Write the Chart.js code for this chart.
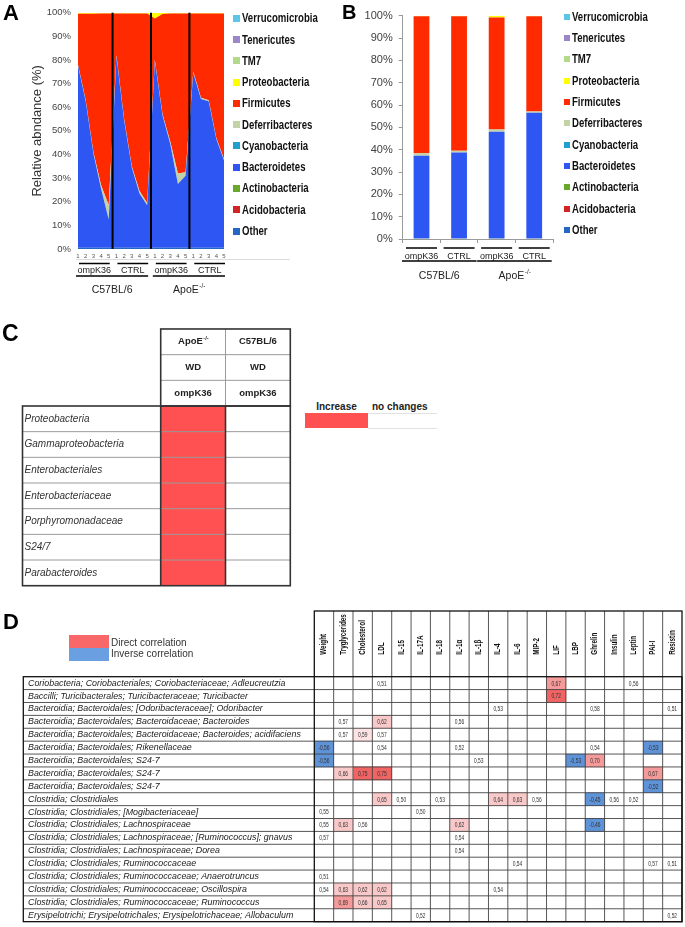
<!DOCTYPE html>
<html><head><meta charset="utf-8">
<script src="https://cdn.jsdelivr.net/npm/chart.js@4.4.1/dist/chart.umd.min.js"></script>
<style>
html,body{margin:0;padding:0;background:#fff;}
body{position:relative;width:685px;height:927px;overflow:hidden;font-family:'Liberation Sans',Arial,sans-serif;}
canvas{position:absolute;}
.abs{position:absolute;white-space:nowrap;}
.plet{font-weight:bold;line-height:1;color:#000;z-index:3;}
.leg{font:bold 12px 'Liberation Sans',Arial,sans-serif;color:#111;line-height:14px;z-index:3;transform:scaleX(0.8);transform-origin:0 50%;}
</style></head><body>
<canvas id="chartA" width="340" height="300" style="left:0;top:0"></canvas>
<canvas id="chartB" width="345" height="300" style="left:340px;top:0"></canvas>
<canvas id="chartC" width="300" height="300" style="left:0;top:300px"></canvas>
<canvas id="chartD" width="685" height="327" style="left:0;top:600px"></canvas>
<div class="abs plet" style="left:3px;top:2px;font-size:22px">A</div>
<div class="abs plet" style="left:342px;top:2px;font-size:20px">B</div>
<div class="abs plet" style="left:2px;top:322px;font-size:23px">C</div>
<div class="abs plet" style="left:3px;top:611px;font-size:22px">D</div>
<div id="legends"></div>
<script>
// ---------------- DATA ----------------
// Panels A & B
const phyla = ['Other','Acidobacteria','Actinobacteria','Bacteroidetes','Cyanobacteria','Deferribacteres','Firmicutes','Proteobacteria','TM7','Tenericutes','Verrucomicrobia'];
const sampleLabels = ['1','2','3','4','5','1','2','3','4','5','1','2','3','4','5','1','2','3','4','5'];
const treatmentLabels = ['ompK36','CTRL','ompK36','CTRL'];
const strainLabels = ['C57BL/6','ApoE-/-'];

const otherA          = [0.5,0.5,0.5,0.5,0.5, 0.5,0.5,0.5,0.5,0.5, 0.5,0.5,0.5,0.5,0.5, 0.5,0.5,0.5,0.5,0.5];
const bacteroidetesA  = [77,62,40,25,12, 81,54,34,23,18, 79,56,44,27,30.5, 74,63,62,46,37];
const deferribacteresA= [0.5,0.5,0.5,1.5,6, 0.5,0.5,0.5,1,1, 0.5,0.5,1,4.5,1.5, 0.5,0.5,0.5,0.5,0.5];
const firmicutesA     = [21.6,36.6,58.6,72.7,81.2, 17.7,44.7,64.7,75.2,80.2, 17.5,42.5,54.2,67.7,67.2, 24.7,35.7,36.7,52.7,61.7];
const proteobacteriaA = [0.4,0.4,0.4,0.3,0.3, 0.3,0.3,0.3,0.3,0.3, 2.5,0.5,0.3,0.3,0.3, 0.3,0.3,0.3,0.3,0.3];

const otherB          = [0.5,0.5,0.5,0.5];
const bacteroidetesB  = [36.8,38.2,47.5,56];
const deferribacteresB= [1.2,0.8,1,0.6];
const firmicutesB     = [61.3,60.3,50.2,42.7];
const proteobacteriaB = [0.2,0.2,0.8,0.2];

// Panel C
const taxaC = ['Proteobacteria','Gammaproteobacteria','Enterobacteriales','Enterobacteriaceae','Porphyromonadaceae','S24/7','Parabacteroides'];
const strainsC = ['ApoE-/-','C57BL/6'];
const dietsC = ['WD','WD'];
const treatmentsC = ['ompK36','ompK36'];
const changeApoE = [1,1,1,1,1,1,1];   // 1 = increase
const changeC57  = [0,0,0,0,0,0,0];   // 0 = no changes

// Panel D
const taxaD = [
 'Coriobacteria; Coriobacteriales; Coriobacteriaceae; Adleucreutzia',
 'Baccilli; Turicibacterales; Turicibacteraceae; Turicibacter',
 'Bacteroidia; Bacteroidales; [Odoribacteraceae]; Odoribacter',
 'Bacteroidia; Bacteroidales; Bacteroidaceae; Bacteroides',
 'Bacteroidia; Bacteroidales; Bacteroidaceae; Bacteroides; acidifaciens',
 'Bacteroidia; Bacteroidales; Rikenellaceae',
 'Bacteroidia; Bacteroidales; S24-7',
 'Bacteroidia; Bacteroidales; S24-7',
 'Bacteroidia; Bacteroidales; S24-7',
 'Clostridia; Clostridiales',
 'Clostridia; Clostridiales; [Mogibacteriaceae]',
 'Clostridia; Clostridiales; Lachnospiraceae',
 'Clostridia; Clostridiales; Lachnospiraceae; [Ruminococcus]; gnavus',
 'Clostridia; Clostridiales; Lachnospiraceae; Dorea',
 'Clostridia; Clostridiales; Ruminococcaceae',
 'Clostridia; Clostridiales; Ruminococcaceae; Anaerotruncus',
 'Clostridia; Clostridiales; Ruminococcaceae; Oscillospira',
 'Clostridia; Clostridiales; Ruminococcaceae; Ruminococcus',
 'Erysipelotrichi; Erysipelotrichales; Erysipelotrichaceae; Allobaculum'
];
const factorsD = ['Weight','Tryglycerides','Cholesterol','LDL','IL-15','IL-17A','IL-18','IL-1\u03b1','IL-1\u03b2','IL-4','IL-6','MIP-2','LIF','LBP','Ghrelin','Insulin','Leptin','PAI-I','Resistin'];
const correlations = [
 [0,'LDL',0.51],[0,'LIF',0.67],[0,'Leptin',0.56],
 [1,'LIF',0.72],
 [2,'IL-4',0.53],[2,'Ghrelin',0.58],[2,'Resistin',0.51],
 [3,'Tryglycerides',0.57],[3,'LDL',0.62],[3,'IL-1\u03b1',0.56],
 [4,'Tryglycerides',0.57],[4,'Cholesterol',0.59],[4,'LDL',0.57],
 [5,'Weight',-0.56],[5,'LDL',0.54],[5,'IL-1\u03b1',0.52],[5,'Ghrelin',0.54],[5,'PAI-I',-0.53],
 [6,'Weight',-0.56],[6,'IL-1\u03b2',0.53],[6,'LBP',-0.53],[6,'Ghrelin',0.70],
 [7,'Tryglycerides',0.66],[7,'Cholesterol',0.75],[7,'LDL',0.75],[7,'PAI-I',0.67],
 [8,'PAI-I',-0.52],
 [9,'LDL',0.65],[9,'IL-15',0.50],[9,'IL-18',0.53],[9,'IL-4',0.64],[9,'IL-6',0.63],[9,'MIP-2',0.56],[9,'Ghrelin',-0.45],[9,'Insulin',0.56],[9,'Leptin',0.52],
 [10,'Weight',0.55],[10,'IL-17A',0.50],
 [11,'Weight',0.55],[11,'Tryglycerides',0.63],[11,'Cholesterol',0.56],[11,'IL-1\u03b1',0.62],[11,'Ghrelin',-0.46],
 [12,'Weight',0.57],[12,'IL-1\u03b1',0.54],
 [13,'IL-1\u03b1',0.54],
 [14,'IL-6',0.54],[14,'PAI-I',0.57],[14,'Resistin',0.51],
 [15,'Weight',0.51],
 [16,'Weight',0.54],[16,'Tryglycerides',0.63],[16,'Cholesterol',0.62],[16,'LDL',0.62],[16,'IL-4',0.54],
 [17,'Tryglycerides',0.69],[17,'Cholesterol',0.66],[17,'LDL',0.65],
 [18,'IL-17A',0.52],[18,'Resistin',0.52]
];

// ---------------- STYLE ----------------
const FONT = "'Liberation Sans', Arial, sans-serif";
Chart.defaults.font.family = FONT;
Chart.defaults.animation = false;
const phylumColors = {
 'Verrucomicrobia':'#5cc6e6','Tenericutes':'#9b86c9','TM7':'#b2da8a','Proteobacteria':'#ffff00',
 'Firmicutes':'#ff2a00','Deferribacteres':'#c3d3a6','Cyanobacteria':'#21a0cf','Bacteroidetes':'#2e56f2',
 'Actinobacteria':'#6aa82a','Acidobacteria':'#d22424','Other':'#2667c6'};
function cellColor(v){
 if (v == null) return null;
 if (v < 0) return '#5f93d8';
 if (v >= 0.72) return '#f06464';
 if (v >= 0.67) return '#f59a9a';
 if (v >= 0.62) return '#f9c8c8';
 if (v >= 0.59) return '#fde3e3';
 return null;
}
const fmt = v => v.toFixed(2).replace('.', ',');

function line(ctx,x1,y1,x2,y2){ctx.beginPath();ctx.moveTo(x1,y1);ctx.lineTo(x2,y2);ctx.stroke();}
function drawSupLabel(ctx, s, cx, cy, size, weight, color){
  const m = s.match(/^(.*?)(-\/-)$/);
  ctx.fillStyle = color; ctx.textBaseline = 'middle';
  ctx.font = `${weight} ${size}px ${FONT}`;
  if (!m){ ctx.textAlign='center'; ctx.fillText(s,cx,cy); return; }
  const w1 = ctx.measureText(m[1]).width;
  const ss = size*0.6;
  ctx.font = `${weight} ${ss}px ${FONT}`;
  const w2 = ctx.measureText(m[2]).width;
  const x0 = cx-(w1+w2)/2;
  ctx.textAlign='left';
  ctx.font = `${weight} ${size}px ${FONT}`; ctx.fillText(m[1],x0,cy);
  ctx.font = `${weight} ${ss}px ${FONT}`; ctx.fillText(m[2],x0+w1+0.5,cy-size*0.35);
}
// condensed text on canvas (narrow look of the original)
function narrowText(ctx, s, x, y, rot, sx){
  ctx.save(); ctx.translate(x,y); if (rot) ctx.rotate(rot); ctx.scale(sx,1); ctx.fillText(s,0,0); ctx.restore();
}

// ---------------- PANEL A ----------------
function areaDs(name, data, fill){
  return {label:name, data, fill, backgroundColor:phylumColors[name], borderColor:phylumColors[name], borderWidth:0, pointRadius:0, tension:0};
}
const groupsA = {
  id:'groupsA',
  afterDraw(chart){
    const {ctx, chartArea:ca, scales:{x}} = chart;
    ctx.save();
    ctx.strokeStyle='#000'; ctx.lineWidth=2;
    for (let g=1; g<4; g++){ const px=(x.getPixelForValue(5*g-1)+x.getPixelForValue(5*g))/2; line(ctx,px,ca.top,px,ca.bottom); }
    ctx.strokeStyle='#dcdcdc'; ctx.lineWidth=1; line(ctx,ca.left-2,259.5,290,259.5);
    ctx.strokeStyle='#000'; ctx.lineWidth=1.5;
    treatmentLabels.forEach((t,g)=>{
      const a=x.getPixelForValue(5*g)+1, b=x.getPixelForValue(5*g+4)+1;
      line(ctx,a,263.5,b,263.5);
      drawSupLabel(ctx,t,(a+b)/2,270.5,9,'normal','#222');
    });
    strainLabels.forEach((s,k)=>{
      const a=x.getPixelForValue(10*k)-2, b=x.getPixelForValue(10*k+9)+1;
      ctx.strokeStyle='#000'; ctx.lineWidth=1.5; line(ctx,a,276,b,276);
      drawSupLabel(ctx,s,(a+b)/2,290,10.5,'normal','#222');
    });
    ctx.restore();
  }
};
new Chart(document.getElementById('chartA'), {
  type:'line',
  data:{labels:sampleLabels, datasets:[
    areaDs('Other', otherA, 'origin'),
    areaDs('Bacteroidetes', bacteroidetesA, '-1'),
    areaDs('Deferribacteres', deferribacteresA, '-1'),
    areaDs('Firmicutes', firmicutesA, '-1'),
    areaDs('Proteobacteria', proteobacteriaA, '-1')
  ]},
  options:{
    responsive:false, animation:false,
    layout:{padding:{left:26,right:116,top:6.7,bottom:39}},
    plugins:{legend:{display:false},tooltip:{enabled:false}},
    scales:{
      x:{type:'category', offset:false, grid:{display:false,drawTicks:false}, border:{display:false},
         ticks:{font:{size:6}, color:'#555', padding:4, autoSkip:false, maxRotation:0, minRotation:0},
         afterFit(s){s.height=12;}},
      y:{stacked:true, min:0, max:100, grid:{display:false,drawTicks:false}, border:{display:false},
         ticks:{stepSize:10, callback:v=>v+'%', font:{size:9.5}, color:'#444', padding:7},
         title:{display:true, text:'Relative abndance (%)', font:{size:13}, color:'#333', padding:{top:4,bottom:0}},
         afterFit(s){s.width=52;}}
    }
  },
  plugins:[groupsA]
});

// ---------------- PANEL B ----------------
function barDs(name, data){ return {label:name, data, backgroundColor:phylumColors[name], borderWidth:0, barPercentage:0.42, categoryPercentage:1}; }
const groupsB = {
  id:'groupsB',
  afterDraw(chart){
    const {ctx, scales:{x}} = chart;
    ctx.save();
    ctx.strokeStyle='#000'; ctx.lineWidth=1.5;
    treatmentLabels.forEach((t,i)=>{
      const c=x.getPixelForValue(i);
      line(ctx,c-15.5,248,c+15.5,248);
      drawSupLabel(ctx,t,c,256.5,9,'normal','#222');
    });
    strainLabels.forEach((s,k)=>{
      const a=x.getPixelForValue(2*k)-19.5, b=x.getPixelForValue(2*k+1)+17.5;
      ctx.strokeStyle='#000'; ctx.lineWidth=1.5; line(ctx,a,261,b,261);
      drawSupLabel(ctx,s,(a+b)/2,276,10.5,'normal','#222');
    });
    ctx.restore();
  }
};
new Chart(document.getElementById('chartB'), {
  type:'bar',
  data:{labels:treatmentLabels, datasets:[
    barDs('Other', otherB), barDs('Bacteroidetes', bacteroidetesB), barDs('Deferribacteres', deferribacteresB),
    barDs('Firmicutes', firmicutesB), barDs('Proteobacteria', proteobacteriaB)
  ]},
  options:{
    responsive:false, animation:false,
    layout:{padding:{left:0,right:132,top:15.7,bottom:56}},
    plugins:{legend:{display:false},tooltip:{enabled:false}},
    scales:{
      x:{stacked:true, offset:true, grid:{display:true, drawOnChartArea:false, drawTicks:true, tickLength:4, color:'#9a9a9a', offset:true},
         border:{display:true,color:'#9a9a9a'}, ticks:{display:false}, afterFit(s){s.height=5;}},
      y:{stacked:true, min:0, max:100, grid:{display:true, drawOnChartArea:false, tickLength:4, color:'#9a9a9a'},
         border:{display:true,color:'#9a9a9a'},
         ticks:{stepSize:10, callback:v=>v+'%', font:{size:11}, color:'#404040', padding:6},
         afterFit(s){s.width=62.7;}}
    }
  },
  plugins:[groupsB]
});

// ---------------- LEGENDS A / B (HTML) ----------------
(function(){
  const host = document.getElementById('legends');
  const legendOrder = phyla.slice().reverse();
  function build(markerX, markerSize, textX, y0, step){
    legendOrder.forEach((name,i)=>{
      const cy = y0 + i*step;
      const m = document.createElement('div');
      m.className='abs'; m.style.cssText=`left:${markerX}px;top:${cy-markerSize/2}px;width:${markerSize}px;height:${markerSize}px;background:${phylumColors[name]};z-index:3`;
      const t = document.createElement('div');
      t.className='abs leg'; t.style.left=textX+'px'; t.style.top=(cy-7)+'px'; t.textContent=name;
      host.appendChild(m); host.appendChild(t);
    });
  }
  build(233.3, 7, 242, 18.3, 21.27);
  build(564, 6, 571.7, 16.7, 21.33);
})();

// ---------------- PANEL C ----------------
const tableC = {
  id:'tableC',
  afterDraw(chart){
    const {ctx, chartArea:ca, scales:{x,y}} = chart;
    const rowH = y.getPixelForValue(1)-y.getPixelForValue(0);
    const top=ca.top, bottom=ca.bottom, left=y.left-2;
    const hTop = top-3*rowH;
    const cols=[0,1,2].map(v=>x.getPixelForValue(v));
    ctx.save();
    ctx.strokeStyle='#9a9a9a'; ctx.lineWidth=1;
    for (let r=1;r<taxaC.length;r++){ const yy=top+r*rowH; line(ctx,left,yy,ca.right,yy); }
    for (let h=1;h<3;h++){ const yy=hTop+h*rowH; line(ctx,cols[0],yy,cols[2],yy); }
    line(ctx,cols[1],hTop,cols[1],top);
    ctx.strokeStyle='#333'; ctx.lineWidth=1.6;
    ctx.strokeRect(left,top,ca.right-left,bottom-top);
    ctx.strokeRect(cols[0],hTop,cols[2]-cols[0],top-hTop);
    line(ctx,cols[0],top,cols[0],bottom); line(ctx,cols[1],top,cols[1],bottom);
    [strainsC,dietsC,treatmentsC].forEach((arr,h)=>arr.forEach((t,c)=>
      drawSupLabel(ctx,t,(cols[c]+cols[c+1])/2,hTop+(h+0.5)*rowH,9.5,'bold','#222')));
    ctx.restore();
  }
};
new Chart(document.getElementById('chartC'), {
  type:'bar',
  data:{labels:taxaC, datasets:[
    {label:strainsC[0], data:changeApoE.map(v=>v===1?[0,1]:null), backgroundColor:'#ff5151', borderWidth:0, barPercentage:1, categoryPercentage:1, grouped:false},
    {label:strainsC[1], data:changeC57.map(v=>v===1?[1,2]:null), backgroundColor:'#ff5151', borderWidth:0, barPercentage:1, categoryPercentage:1, grouped:false}
  ]},
  options:{
    indexAxis:'y', responsive:false, animation:false,
    layout:{padding:{left:24.5,right:9.7,top:106,bottom:14.3}},
    plugins:{legend:{display:false},tooltip:{enabled:false}},
    scales:{
      x:{type:'linear', min:0, max:2, display:false},
      y:{type:'category', offset:true, grid:{display:false,drawTicks:false}, border:{display:false},
         ticks:{crossAlign:'far', padding:0, autoSkip:false, font:{size:10, style:'italic'}, color:'#333'},
         afterFit(s){s.width=136.2;}}
    }
  },
  plugins:[tableC]
});

// ---------------- PANEL D ----------------
const valueAt = (r,f) => { const e = correlations.find(c=>c[0]===r && c[1]===f); return e ? e[2] : null; };
const tableD = {
  id:'tableD',
  afterDraw(chart){
    const {ctx, chartArea:ca, scales:{x,y}} = chart;
    const rowH = y.getPixelForValue(1)-y.getPixelForValue(0);
    const left = y.left-4.7, hTop = 11;
    ctx.save();
    ctx.strokeStyle='#444'; ctx.lineWidth=0.9;
    for (let r=1;r<taxaD.length;r++){ const yy=ca.top+r*rowH; line(ctx,left,yy,ca.right,yy); }
    for (let c=1;c<factorsD.length;c++){ const xx=x.getPixelForValue(c); line(ctx,xx,hTop,xx,ca.bottom); }
    ctx.strokeStyle='#111'; ctx.lineWidth=1.3;
    ctx.strokeRect(left,ca.top,ca.right-left,ca.bottom-ca.top);
    ctx.strokeRect(x.getPixelForValue(0),hTop,x.getPixelForValue(factorsD.length)-x.getPixelForValue(0),ca.bottom-hTop);
    ctx.fillStyle='#111'; ctx.font=`bold 8.5px ${FONT}`; ctx.textAlign='left'; ctx.textBaseline='middle';
    factorsD.forEach((f,c)=>narrowText(ctx,f,x.getPixelForValue(c+0.5),ca.top-22,-Math.PI/2,0.74));
    ctx.font=`6.8px ${FONT}`; ctx.textAlign='center'; ctx.fillStyle='#333';
    correlations.forEach(([r,f,v])=>{ const c=factorsD.indexOf(f); narrowText(ctx,fmt(v),x.getPixelForValue(c+0.5),y.getPixelForValue(r)+0.5,0,0.72); });
    ctx.restore();
  }
};
new Chart(document.getElementById('chartD'), {
  type:'bar',
  data:{labels:taxaD, datasets:factorsD.map((f,c)=>({
    label:f,
    data:taxaD.map((_,r)=>cellColor(valueAt(r,f)) ? [c,c+1] : null),
    backgroundColor:taxaD.map((_,r)=>cellColor(valueAt(r,f)) || 'rgba(0,0,0,0)'),
    borderWidth:0, barPercentage:1, categoryPercentage:1, grouped:false
  }))},
  options:{
    indexAxis:'y', responsive:false, animation:false,
    layout:{padding:{left:28,right:3,top:76.7,bottom:2}},
    plugins:{legend:{display:false},tooltip:{enabled:false}},
    scales:{
      x:{type:'linear', min:0, max:factorsD.length, display:false},
      y:{type:'category', offset:true, grid:{display:false,drawTicks:false}, border:{display:false},
         ticks:{crossAlign:'far', padding:0, autoSkip:false, font:{size:8.9, style:'italic'}, color:'#222'},
         afterFit(s){s.width=286.3;}}
    }
  },
  plugins:[tableD]
});
</script>
<!-- Panel C legend -->
<div class="abs" style="left:305px;top:401px;width:63px;text-align:center;font:bold 10px 'Liberation Sans',Arial,sans-serif;color:#222;line-height:12px">Increase</div>
<div class="abs" style="left:372px;top:401px;font:bold 10px 'Liberation Sans',Arial,sans-serif;color:#222;line-height:12px">no changes</div>
<div class="abs" style="left:305px;top:412.7px;width:62.7px;height:15.6px;background:#ff5151"></div>
<div class="abs" style="left:367.7px;top:412.5px;width:69px;height:1px;background:#e2e2e2"></div>
<div class="abs" style="left:367.7px;top:428px;width:69px;height:1px;background:#e2e2e2"></div>
<!-- Panel D legend -->
<div class="abs" style="left:69.3px;top:635px;width:40px;height:12.7px;background:#f86868"></div>
<div class="abs" style="left:69.3px;top:647.7px;width:40px;height:13px;background:#6a9fe2"></div>
<div class="abs" style="left:111px;top:636.5px;font:10px 'Liberation Sans',Arial,sans-serif;color:#333;line-height:12px">Direct correlation</div>
<div class="abs" style="left:111px;top:648.3px;font:10px 'Liberation Sans',Arial,sans-serif;color:#333;line-height:12px">Inverse correlation</div>
</body></html>
